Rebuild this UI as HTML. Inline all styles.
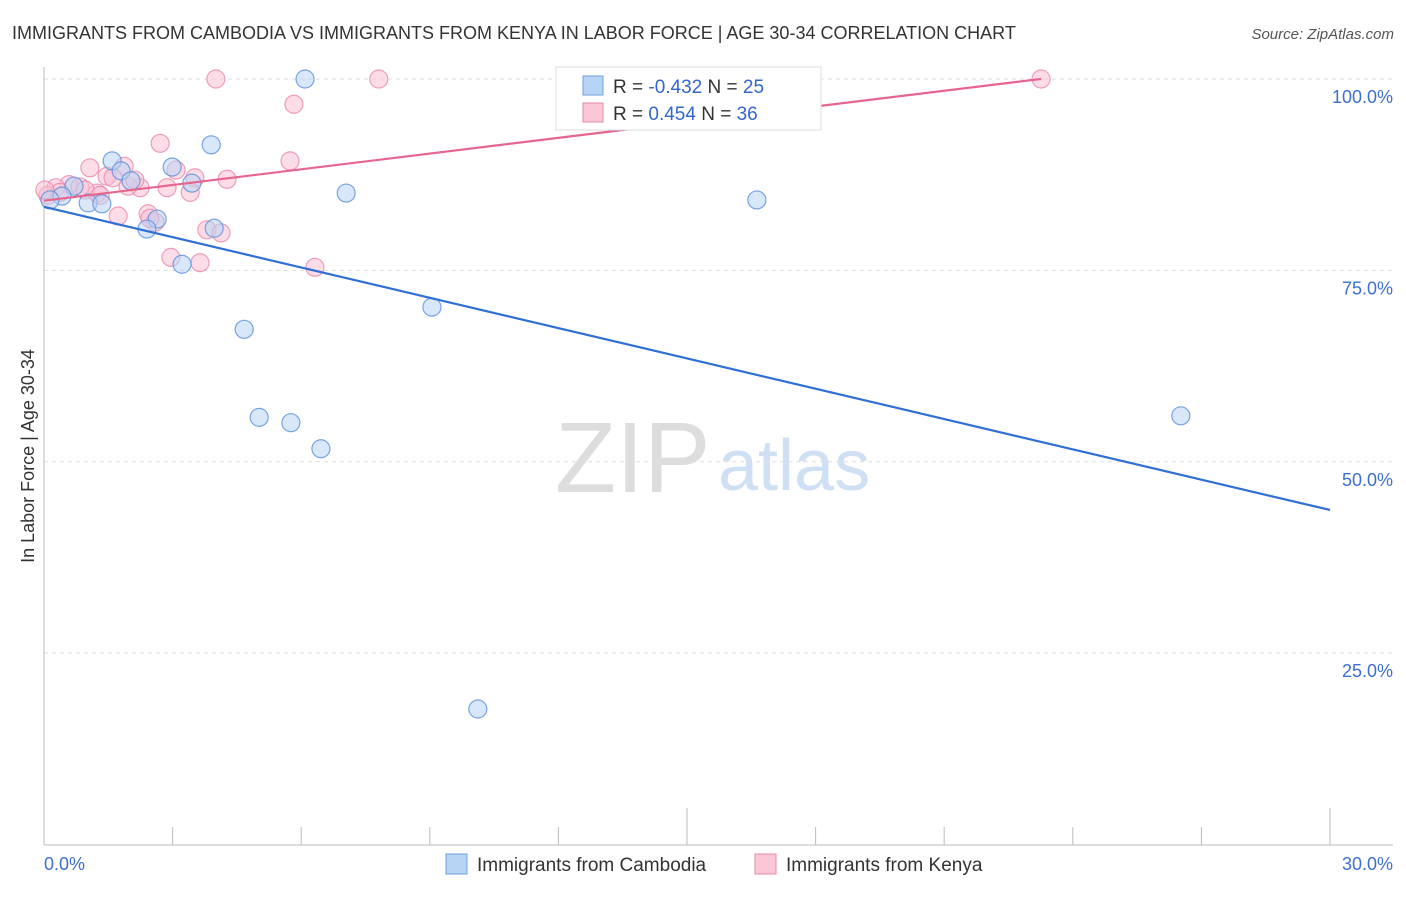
<!DOCTYPE html>
<html><head><meta charset="utf-8"><style>
body{margin:0;background:#fff;font-family:"Liberation Sans",sans-serif}
svg text{font-family:"Liberation Sans",sans-serif}
</style></head><body>
<svg id="chart" width="1406" height="892" viewBox="0 0 1406 892">
<text x="12" y="39" font-size="18" fill="#333">IMMIGRANTS FROM CAMBODIA VS IMMIGRANTS FROM KENYA IN LABOR FORCE | AGE 30-34 CORRELATION CHART</text>
<text x="1394" y="39" font-size="15" fill="#555" text-anchor="end" font-style="italic">Source: ZipAtlas.com</text>
<text x="555" y="492" font-size="100" fill="#ddd" font-family="Liberation Serif">ZIP</text>
<text x="718" y="490" font-size="72" fill="#cfe0f5">atlas</text>
<g id="grid"></g>
<g id="axes"></g>
<g id="marks"></g>
<text transform="translate(34,456) rotate(-90)" font-size="18" fill="#333" text-anchor="middle">In Labor Force | Age 30-34</text>
<g>
<rect x="556" y="67" width="265" height="63" fill="#fff" stroke="#ddd"/>
<rect x="583" y="76" width="20" height="19" fill="#b8d4f5" stroke="#6d9fe0"/>
<rect x="583" y="103" width="20" height="19" fill="#fbc6d6" stroke="#e88aa8"/>
<text x="613" y="93" font-size="19" fill="#333">R = <tspan fill="#3366cc">-0.432</tspan>   N = <tspan fill="#3366cc">25</tspan></text>
<text x="613" y="120" font-size="19" fill="#333">R =  <tspan fill="#3366cc">0.454</tspan>   N = <tspan fill="#3366cc">36</tspan></text>
</g>
<g>
<rect x="446" y="854" width="21" height="20" fill="#b8d4f5" stroke="#6d9fe0"/>
<text x="477" y="871" font-size="19" fill="#333">Immigrants from Cambodia</text>
<rect x="755" y="854" width="21" height="20" fill="#fbc6d6" stroke="#e88aa8"/>
<text x="786" y="871" font-size="19" fill="#333">Immigrants from Kenya</text>
</g>
</svg>
<script>
const cambodiaX=[6.09,3.90,1.59,2.99,1.80,2.03,3.45,0.70,0.42,0.14,1.03,1.35,2.64,2.40,3.97,7.05,16.63,3.22,4.67,9.05,5.02,5.76,6.46,26.52,10.12];
const cambodiaY=[100.0,91.4,89.3,88.5,88.0,86.7,86.4,86.0,84.7,84.2,83.8,83.7,81.7,80.4,80.5,85.1,84.2,75.8,67.3,70.2,55.8,55.1,51.7,56.0,17.7];
const kenyaX=[4.01,7.81,23.26,5.83,2.71,5.74,1.07,1.87,3.08,1.47,3.52,4.27,0.58,0.84,0.28,2.24,2.87,3.41,1.24,1.96,2.43,1.73,2.59,3.80,4.13,2.96,3.64,6.32,0.09,0.37,0.96,1.31,0.02,2.12,1.61,2.47];
const kenyaY=[100.0,100.0,100.0,96.7,91.6,89.3,88.4,88.6,88.1,87.3,87.1,86.9,86.2,85.9,85.8,85.8,85.8,85.2,85.1,86.0,82.4,82.1,81.3,80.3,79.9,76.7,76.0,75.4,84.8,85.2,85.5,84.8,85.5,86.8,87.1,81.8];
const cambodiaTrend=[83.3,-1.32]; // intercept, slope per %
const kenyaTrend=[84.1,0.684];
const yTicks=[25,50,75,100];
const yTickLabels=["25.0%","50.0%","75.0%","100.0%"];
const xTicks=[0,3,6,9,12,15,18,21,24,27,30];
const xLabels=["0.0%","30.0%"];
const NS="http://www.w3.org/2000/svg";
const X=v=>44+v/30*1286, Y=v=>844.5-v*7.655;
function mk(t,a,p){const e=document.createElementNS(NS,t);for(const k in a)e.setAttribute(k,a[k]);p.appendChild(e);return e;}
const grid=document.getElementById('grid'),axes=document.getElementById('axes'),marks=document.getElementById('marks');
yTicks.forEach((v,i)=>{
 const l=mk('line',{x1:44,x2:1393,y1:Y(v),y2:Y(v),stroke:'#ddd','stroke-dasharray':'4,4'},grid);
 
 
 const t=mk('text',{x:1393,y:Y(v)+24,'font-size':18,fill:'#3d6fd0','text-anchor':'end'},axes);
 t.textContent=yTickLabels[i];
 
 
});
const ax=mk('line',{x1:44,x2:1393,y1:845,y2:845,stroke:'#bbb'},axes);


const ay=mk('line',{x1:44,x2:44,y1:67,y2:845,stroke:'#bbb'},axes);


xTicks.forEach((v,i)=>{
 const big=(i===5||i===10);
 const tk=mk('line',{x1:X(v),x2:X(v),y1:big?808:827,y2:845,stroke:'#bbb'},axes);
 
 
});
const xl0=mk('text',{x:44,y:870,'font-size':18,fill:'#3d6fd0'},axes);xl0.textContent=xLabels[0];


const xl1=mk('text',{x:1393,y:870,'font-size':18,fill:'#3d6fd0','text-anchor':'end'},axes);xl1.textContent=xLabels[1];


function pts(xs,ys,fill,stroke,name){xs.forEach((x,i)=>{
 const c=mk('circle',{cx:X(x),cy:Y(ys[i]),r:9,fill:fill,'fill-opacity':0.55,stroke:stroke,'stroke-opacity':0.8,'stroke-width':1.2},marks);
 
 
});}
pts(kenyaX,kenyaY,'#f9c0d2','#e88aa8','kenya-point');
pts(cambodiaX,cambodiaY,'#b8d4f5','#5b8fdb','cambodia-point');
const bl=mk('line',{x1:X(0),y1:Y(cambodiaTrend[0]),x2:X(30),y2:Y(cambodiaTrend[0]+30*cambodiaTrend[1]),stroke:'#2f6fd6','stroke-width':2.2},marks);


const kl=mk('line',{x1:X(0),y1:Y(kenyaTrend[0]),x2:X(23.26),y2:Y(kenyaTrend[0]+23.26*kenyaTrend[1]),stroke:'#e5658d','stroke-width':2.2},marks);


</script>
</body></html>
